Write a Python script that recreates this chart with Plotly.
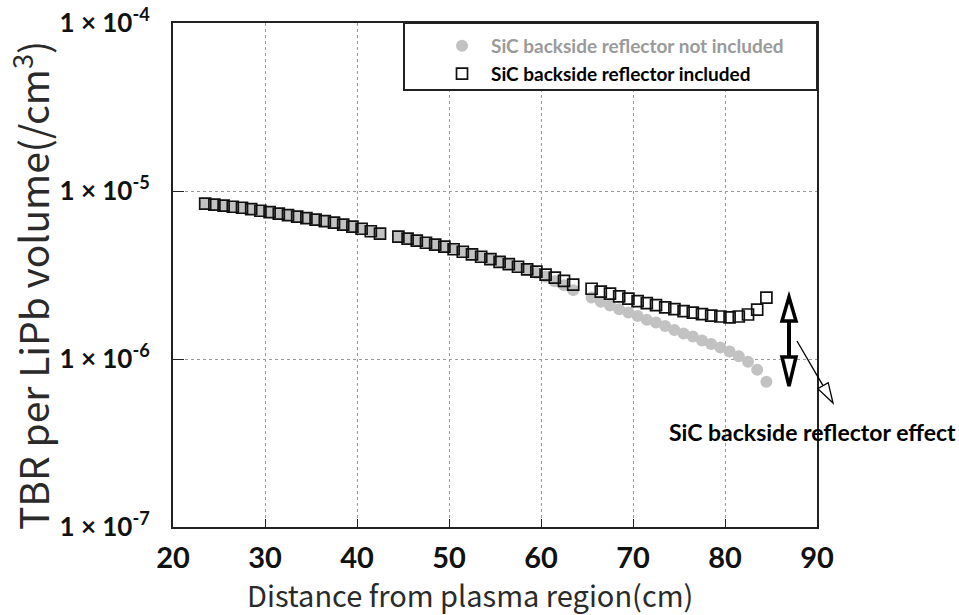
import plotly.graph_objects as go

# Distance from plasma region (cm): three blanket segments
x_seg1 = [23.5, 24.5, 25.5, 26.5, 27.5, 28.5, 29.5, 30.5, 31.5, 32.5,
          33.5, 34.5, 35.5, 36.5, 37.5, 38.5, 39.5, 40.5, 41.5, 42.5]
x_seg2 = [44.5, 45.5, 46.5, 47.5, 48.5, 49.5, 50.5, 51.5, 52.5, 53.5,
          54.5, 55.5, 56.5, 57.5, 58.5, 59.5, 60.5, 61.5, 62.5, 63.5]
x_seg3 = [65.5, 66.5, 67.5, 68.5, 69.5, 70.5, 71.5, 72.5, 73.5, 74.5,
          75.5, 76.5, 77.5, 78.5, 79.5, 80.5, 81.5, 82.5, 83.5, 84.5]
distance = x_seg1 + x_seg2 + x_seg3

# TBR per LiPb volume (/cm3), SiC backside reflector included
tbr_included = [
    8.40e-6, 8.29e-6, 8.18e-6, 8.06e-6, 7.95e-6, 7.79e-6, 7.63e-6, 7.48e-6, 7.33e-6, 7.18e-6,
    7.03e-6, 6.89e-6, 6.75e-6, 6.61e-6, 6.48e-6, 6.30e-6, 6.13e-6, 5.96e-6, 5.76e-6, 5.57e-6,
    5.35e-6, 5.20e-6, 5.06e-6, 4.92e-6, 4.79e-6, 4.66e-6, 4.50e-6, 4.35e-6, 4.20e-6, 4.06e-6,
    3.93e-6, 3.79e-6, 3.67e-6, 3.54e-6, 3.42e-6, 3.31e-6, 3.18e-6, 3.05e-6, 2.92e-6, 2.77e-6,
    2.62e-6, 2.52e-6, 2.45e-6, 2.36e-6, 2.29e-6, 2.21e-6, 2.15e-6, 2.09e-6, 2.03e-6, 1.98e-6,
    1.93e-6, 1.89e-6, 1.85e-6, 1.81e-6, 1.79e-6, 1.77e-6, 1.79e-6, 1.84e-6, 1.97e-6, 2.32e-6,
]

# TBR per LiPb volume (/cm3), SiC backside reflector not included
tbr_not_included = [
    8.40e-6, 8.29e-6, 8.18e-6, 8.06e-6, 7.95e-6, 7.79e-6, 7.63e-6, 7.48e-6, 7.33e-6, 7.18e-6,
    7.03e-6, 6.89e-6, 6.75e-6, 6.61e-6, 6.48e-6, 6.30e-6, 6.13e-6, 5.96e-6, 5.76e-6, 5.57e-6,
    5.35e-6, 5.20e-6, 5.06e-6, 4.92e-6, 4.79e-6, 4.66e-6, 4.50e-6, 4.35e-6, 4.20e-6, 4.06e-6,
    3.93e-6, 3.79e-6, 3.67e-6, 3.54e-6, 3.40e-6, 3.26e-6, 3.09e-6, 2.90e-6, 2.75e-6, 2.57e-6,
    2.32e-6, 2.19e-6, 2.08e-6, 1.98e-6, 1.89e-6, 1.80e-6, 1.71e-6, 1.65e-6, 1.57e-6, 1.49e-6,
    1.42e-6, 1.36e-6, 1.29e-6, 1.23e-6, 1.17e-6, 1.11e-6, 1.04e-6, 9.64e-7, 8.64e-7, 7.33e-7,
]

x_ticks = [20, 30, 40, 50, 60, 70, 80, 90]
y_ticks = [1e-7, 1e-6, 1e-5, 1e-4]
y_tick_text = ["1 × 10<sup>-7</sup>", "1 × 10<sup>-6</sup>", "1 × 10<sup>-5</sup>", "1 × 10<sup>-4</sup>"]

name_not = "SiC backside reflector not included"
name_inc = "SiC backside reflector included"
x_title = "Distance from plasma region(cm)"
y_title = "TBR per LiPb volume(/cm<sup>3</sup>)"
effect_label = "SiC backside reflector effect"

fig = go.Figure()
fig.add_trace(go.Scatter(
    x=distance, y=tbr_not_included, mode="markers",
    name="<span style='color:#9a9a9a'>" + name_not + "</span>",
    marker=dict(symbol="circle", size=12, color="#c2c2c2", line=dict(width=0)),
))
fig.add_trace(go.Scatter(
    x=distance, y=tbr_included, mode="markers",
    name=name_inc,
    marker=dict(symbol="square-open", size=11, color="#111111", line=dict(width=1.7)),
))

fig.update_xaxes(
    range=[20, 90], tickvals=x_ticks, ticks="inside", ticklen=8, tickcolor="#222",
    showline=True, linecolor="#222", linewidth=2, mirror=True,
    showgrid=True, gridcolor="#9a9a9a", griddash="dot", gridwidth=1,
    zeroline=False, tickfont=dict(family="Lato", size=29, color="#111111", weight="bold"),
    ticklabelstandoff=4, automargin=False,
)
fig.update_yaxes(
    type="log", range=[-7, -4], tickvals=y_ticks, ticktext=y_tick_text,
    ticks="inside", ticklen=11, tickcolor="#222",
    showline=True, linecolor="#222", linewidth=2, mirror=True,
    showgrid=True, gridcolor="#9a9a9a", griddash="dot", gridwidth=1,
    zeroline=False, tickfont=dict(family="Lato", size=26, color="#111111", weight="bold"),
    ticklabelstandoff=16, automargin=False,
)

def px(X):
    return (X - 173) / 644

def py(Y):
    return (527 - Y) / 504

shapes = [
    # legend box
    dict(type="rect", xref="paper", yref="paper", x0=px(404), x1=px(817), y0=py(90), y1=py(23),
         line=dict(color="#222", width=2), fillcolor="white", layer="above"),
    # double arrow shaft
    dict(type="line", xref="paper", yref="paper", x0=px(789), x1=px(789), y0=py(320), y1=py(358),
         line=dict(color="black", width=4)),
    # upper head
    dict(type="path", xref="paper", yref="paper",
         path=f"M {px(789)} {py(297)} L {px(782)} {py(321)} L {px(796)} {py(321)} Z",
         fillcolor="white", line=dict(color="black", width=3.5)),
    # lower head
    dict(type="path", xref="paper", yref="paper",
         path=f"M {px(789)} {py(386)} L {px(782)} {py(357)} L {px(796)} {py(357)} Z",
         fillcolor="white", line=dict(color="black", width=3.5)),
    # thin diagonal arrow
    dict(type="line", xref="paper", yref="paper", x0=px(797), y0=py(341), x1=px(823), y1=py(385.7),
         line=dict(color="black", width=1.3)),
    dict(type="path", xref="paper", yref="paper",
         path=f"M {px(833)} {py(403)} L {px(828.2)} {py(382.7)} L {px(817.8)} {py(388.7)} Z",
         fillcolor="white", line=dict(color="black", width=1.3)),
]

annotations = [
    dict(text=x_title, xref="paper", yref="paper", x=px(470), y=py(594), showarrow=False,
         font=dict(family="Noto Sans CJK JP", size=29, color="#2a2a2a"), xanchor="center", yanchor="middle"),
    dict(text=y_title, xref="paper", yref="paper", x=px(31), y=py(286), showarrow=False, textangle=-90,
         font=dict(family="Noto Sans CJK JP", size=39, color="#2a2a2a"), xanchor="center", yanchor="middle"),
    dict(text=effect_label, xref="paper", yref="paper", x=px(812), y=py(432), showarrow=False,
         font=dict(family="Lato", size=23, color="black", weight="bold"), xanchor="center", yanchor="middle"),
]

fig.update_layout(
    width=959, height=615,
    margin=dict(l=173, r=142, t=23, b=88, autoexpand=False),
    paper_bgcolor="white", plot_bgcolor="white",
    showlegend=True,
    legend=dict(x=px(433), y=py(27), xanchor="left", yanchor="top",
                bgcolor="rgba(0,0,0,0)", borderwidth=0, itemwidth=48,
                font=dict(family="Lato", size=19, color="black", weight="bold"),
                tracegroupgap=0, itemsizing="trace"),
    shapes=shapes, annotations=annotations,
)

fig.write_html("out.html")
